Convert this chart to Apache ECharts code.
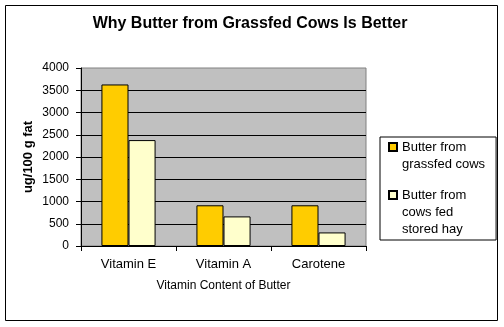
<!DOCTYPE html>
<html>
<head>
<meta charset="utf-8">
<script src="https://cdn.jsdelivr.net/npm/echarts@6/dist/echarts.min.js"></script>
<style>
html,body{margin:0;padding:0;background:#fff;}
#chart{width:504px;height:327px;}
</style>
</head>
<body>
<div id="chart"></div>
<script>
const categories = ['Vitamin E', 'Vitamin A', 'Carotene'];
const grassfed = [3630, 915, 915];
const storedHay = [2380, 665, 305];
const seriesNames = ['Butter from\ngrassfed cows', 'Butter from\ncows fed\nstored hay'];
const yTicks = { min: 0, max: 4000, interval: 500 };

const FONT = "'Liberation Sans', Arial, sans-serif";
const chart = echarts.init(document.getElementById('chart'), null, { renderer: 'canvas' });

// legend text: prepend blank lines so the icon lines up with the first text line
function padName(name) {
  const n = name.split('\n').length;
  return '\n'.repeat(n - 1) + name;
}

chart.setOption({
  backgroundColor: '#ffffff',
  animation: false,
  title: {
    text: 'Why Butter from Grassfed Cows Is Better',
    left: 250,
    top: 16,
    textAlign: 'center',
    padding: 0,
    textStyle: { fontFamily: FONT, fontSize: 16, fontWeight: 'bold', color: '#000' }
  },
  graphic: [{
    type: 'rect',
    shape: { x: 5.5, y: 5.5, width: 492, height: 315 },
    style: { fill: null, stroke: '#000', lineWidth: 1 },
    silent: true, z: 100
  }],
  legend: {
    orient: 'vertical',
    left: 380,
    top: 137,
    padding: [-15.5, 11, 2.5, 8],
    itemGap: -20,
    itemWidth: 8,
    itemHeight: 8,
    icon: 'rect',
    borderColor: '#000',
    borderWidth: 1,
    formatter: padName,
    textStyle: { fontFamily: FONT, fontSize: 13, lineHeight: 17, color: '#000' },
    selectedMode: false,
    data: seriesNames
  },
  grid: {
    left: 81, top: 68, width: 285, height: 178,
    show: true,
    backgroundColor: '#C0C0C0',
    borderColor: '#808080',
    borderWidth: 1
  },
  xAxis: {
    type: 'category',
    data: categories,
    name: 'Vitamin Content of Butter',
    nameLocation: 'middle',
    nameGap: 34,
    nameTextStyle: { fontFamily: FONT, fontSize: 12, color: '#000' },
    axisLine: { show: true, lineStyle: { color: '#000', width: 1 } },
    axisTick: { show: true, length: 5, alignWithLabel: false, lineStyle: { color: '#000' } },
    axisLabel: { fontFamily: FONT, fontSize: 13, color: '#000', margin: 12 },
    splitLine: { show: false }
  },
  yAxis: {
    type: 'value',
    min: yTicks.min, max: yTicks.max, interval: yTicks.interval,
    name: 'ug/100 g fat',
    nameLocation: 'middle',
    nameRotate: 90,
    nameGap: 46,
    nameMoveOverlap: false,
    nameTextStyle: { fontFamily: FONT, fontSize: 13, fontWeight: 'bold', color: '#000' },
    axisLine: { show: true, lineStyle: { color: '#000', width: 1 } },
    axisTick: { show: true, length: 5, lineStyle: { color: '#000' } },
    axisLabel: { fontFamily: FONT, fontSize: 12, color: '#000', margin: 12, formatter: v => String(v) },
    splitLine: { show: true, showMaxLine: false, showMinLine: false, lineStyle: { color: '#000', width: 1 } }
  },
  series: [
    {
      name: seriesNames[0], type: 'bar', data: grassfed,
      barGap: 0, barCategoryGap: '43%',
      itemStyle: { color: '#FFCC00', borderColor: '#000', borderWidth: 1 }
    },
    {
      name: seriesNames[1], type: 'bar', data: storedHay,
      barGap: 0, barCategoryGap: '43%',
      itemStyle: { color: '#FFFFCC', borderColor: '#000', borderWidth: 1 }
    }
  ]
});
</script>
</body>
</html>
